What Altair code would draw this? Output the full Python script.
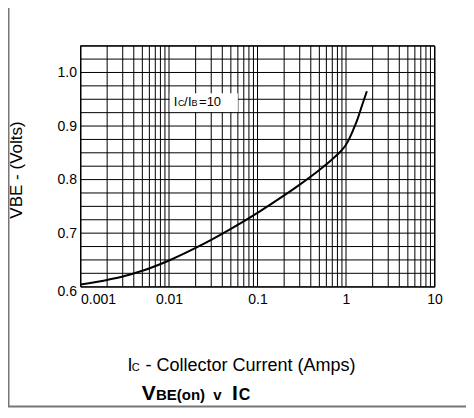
import altair as alt
import pandas as pd

# ---- data ----
ic_amps = [0.001, 0.002, 0.003, 0.005, 0.01, 0.02, 0.03, 0.05, 0.1, 0.2, 0.3,
           0.5, 0.7, 0.85, 1.0, 1.1, 1.2, 1.35, 1.5, 1.72]
vbe_volts = [0.604, 0.6127, 0.619, 0.6297, 0.649, 0.6725, 0.6875, 0.708, 0.738,
             0.7705, 0.7907, 0.818, 0.838, 0.851, 0.865, 0.878, 0.892, 0.913,
             0.936, 0.965]

x_ticks = [0.001, 0.01, 0.1, 1, 10]
y_ticks = [0.6, 0.7, 0.8, 0.9, 1.0]
x_grid = [m * d for d in [0.001, 0.01, 0.1, 1] for m in range(1, 10)] + [10]
y_grid = [0.6, 0.625, 0.65, 0.675, 0.7, 0.725, 0.75, 0.775, 0.8, 0.825, 0.85,
          0.875, 0.9, 0.925, 0.95, 0.975, 1.0, 1.025, 1.05]

note_box = {"x": [0.0102], "x2": [0.060], "y": [0.926], "y2": [0.961]}
note_anchor = {"x": [0.0117], "y": [0.9368]}

x_title_main = "- Collector Current (Amps)"
y_title = "VBE - (Volts)"

W, H = 354, 241
FONT = "Liberation Sans"

xs = alt.Scale(type="log", domain=[0.001, 10], nice=False)
ys = alt.Scale(domain=[0.6, 1.05], nice=False, zero=False)

xaxis = alt.Axis(values=x_ticks, format="~g", grid=False, ticks=False, domain=False,
                 title=None, labelFont=FONT, labelFontSize=14, labelColor="black",
                 labelPadding=6, labelFlush=False, labelOverlap=False,
                 labelAlign=alt.ExprRef(expr="datum.value <= 0.001 ? 'left' : 'center'"))
yaxis = alt.Axis(values=y_ticks, format=".1f", grid=False, ticks=False, domain=False,
                 title=None, labelFont=FONT, labelFontSize=14, labelColor="black",
                 labelPadding=4, labelFlush=False, labelOverlap=False,
                 labelOffset=alt.ExprRef(expr="datum.value <= 0.6 ? 5 : 0"))

vgrid = alt.Chart(pd.DataFrame({"x": x_grid})).mark_rule(
    color="black", strokeWidth=1).encode(x=alt.X("x:Q", scale=xs, axis=xaxis))
hgrid = alt.Chart(pd.DataFrame({"y": y_grid})).mark_rule(
    color="black", strokeWidth=1).encode(y=alt.Y("y:Q", scale=ys, axis=yaxis))

box = alt.Chart(pd.DataFrame(note_box)).mark_rect(color="white").encode(
    x=alt.X("x:Q", scale=xs, axis=xaxis), x2="x2:Q",
    y=alt.Y("y:Q", scale=ys, axis=yaxis), y2="y2:Q")

curve = alt.Chart(pd.DataFrame({"ic": ic_amps, "vbe": vbe_volts})).mark_line(
    color="black", strokeWidth=2, interpolate="monotone").encode(
    x=alt.X("ic:Q", scale=xs, axis=xaxis),
    y=alt.Y("vbe:Q", scale=ys, axis=yaxis))


def note(text, dx, size):
    return alt.Chart(pd.DataFrame(note_anchor).assign(t=text)).mark_text(
        align="left", baseline="alphabetic", font=FONT, fontSize=size,
        color="black", dx=dx).encode(
        x=alt.X("x:Q", scale=xs, axis=xaxis),
        y=alt.Y("y:Q", scale=ys, axis=yaxis), text="t:N")


def label(text, x, y, size, bold=False, align="left", angle=0):
    kw = dict(align=align, baseline="alphabetic", font=FONT, fontSize=size,
              color="black", fontWeight="bold" if bold else "normal")
    if angle:
        kw["angle"] = angle
    return alt.Chart(pd.DataFrame({"t": [text]})).mark_text(**kw).encode(
        text="t:N", x=alt.value(x), y=alt.value(y))


notes = [note("I", -1.2, 13), note("C", 3, 9), note("/", 9, 13),
         note("I", 13, 13), note("B", 16.5, 9), note("=10", 24, 13)]

labels = [
    label("I", 47.1, 325, 18),
    label("C", 51.2, 325, 11),
    label(x_title_main, 170, 325, 18, align="center"),
    label(y_title, -58.8, 124.3, 17, align="center", angle=270),
    label("V", 61.2, 354.3, 21, bold=True),
    label("BE(on)", 75.4, 354.3, 15, bold=True),
    label("v", 132.8, 354.3, 15, bold=True),
    label("I", 151.5, 354.3, 21, bold=True),
    label("C", 158.2, 354.3, 16, bold=True),
]

frame_left = alt.Chart(pd.DataFrame({"a": [0]})).mark_rule(
    color="#777777", strokeWidth=1.5).encode(
    x=alt.value(-71.75), y=alt.value(-40), y2=alt.value(361))
frame_bottom = alt.Chart(pd.DataFrame({"a": [0]})).mark_rule(
    color="#777777", strokeWidth=2).encode(
    x=alt.value(-73), x2=alt.value(386), y=alt.value(360.8))

chart = alt.layer(vgrid, hgrid, box, curve, *notes, *labels, frame_left, frame_bottom).properties(
    width=W, height=H,
    autosize=alt.AutoSizeParams(type="none"),
    padding={"left": 72.5, "top": 37.7, "right": 31.5, "bottom": 123.3},
).configure_view(stroke="black", strokeWidth=1)

chart.save("out.html", embed_options={"renderer": "svg", "actions": False})
